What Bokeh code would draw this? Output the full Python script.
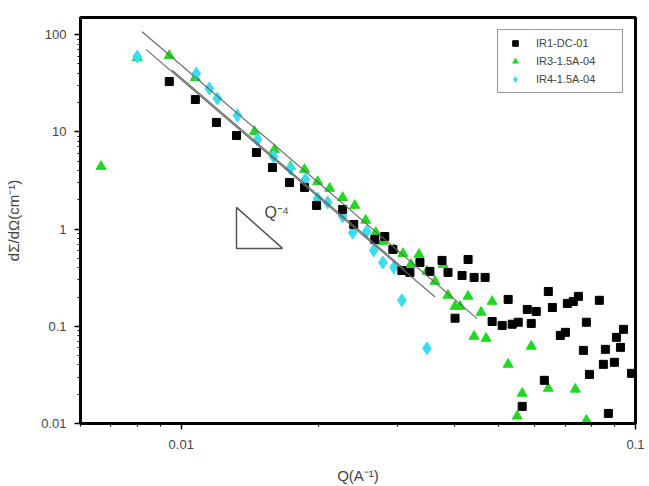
from bokeh.plotting import figure
from bokeh.models import (FixedTicker, CustomJSTickFormatter, Legend, LegendItem)
from bokeh.core.properties import value
from bokeh.embed import file_html
from bokeh.resources import INLINE

# ---- data ----
ir1_q = [0.00941, 0.01074, 0.01195, 0.01323, 0.01464, 0.01588, 0.01731, 0.01868, 0.01986,
         0.02266, 0.02397, 0.02667, 0.02806, 0.02923, 0.03060, 0.03187, 0.03353, 0.03527,
         0.03750, 0.03866, 0.04151, 0.04280, 0.04413, 0.04666, 0.04006, 0.04835, 0.05087,
         0.05244, 0.05352, 0.05518, 0.05777, 0.05895, 0.06047, 0.06299, 0.05631, 0.06428,
         0.06561, 0.06832, 0.07008, 0.07080, 0.07298, 0.07486, 0.07679, 0.07797, 0.07918,
         0.08325, 0.08497, 0.08584, 0.08716, 0.08985, 0.09078, 0.09266, 0.09408, 0.09799]
ir1_i = [32.9, 21.5, 12.5, 9.16, 6.13, 4.30, 3.01, 2.68, 1.75,
         1.59, 1.115, 0.782, 0.839, 0.617, 0.375, 0.358, 0.453, 0.367,
         0.476, 0.358, 0.333, 0.487, 0.318, 0.318, 0.121, 0.112, 0.102,
         0.189, 0.105, 0.110, 0.149, 0.107, 0.142, 0.0278, 0.0150, 0.228,
         0.156, 0.0806, 0.0866, 0.172, 0.180, 0.203, 0.0565, 0.110, 0.0320,
         0.185, 0.0406, 0.0579, 0.0127, 0.0426, 0.0769, 0.0607, 0.093, 0.0328]

ir3_q = [0.00666, 0.00800, 0.00941, 0.01074, 0.01449, 0.01604, 0.01740, 0.01868, 0.01996,
         0.02122, 0.02266, 0.02409, 0.02547, 0.02681, 0.02778, 0.02938, 0.03076, 0.03203,
         0.03336, 0.03474, 0.03619, 0.03770, 0.03866, 0.04006, 0.04109, 0.04280, 0.04571,
         0.04835, 0.04413, 0.04690, 0.05244, 0.05631, 0.05490, 0.05895, 0.06428, 0.07372,
         0.07797]
ir3_i = [4.40, 58.0, 60.8, 36.1, 10.07, 6.58, 4.40, 4.10, 3.08,
         2.62, 2.11, 1.75, 1.23, 0.923, 0.746, 0.617, 0.56, 0.433,
         0.548, 0.367, 0.289, 0.433, 0.208, 0.160, 0.160, 0.203, 0.139,
         0.180, 0.0787, 0.0751, 0.0406, 0.0204, 0.0119, 0.0622, 0.0230, 0.0225,
         0.0108]

ir4_q = [0.00800, 0.01079, 0.01153, 0.01201, 0.01329, 0.01472, 0.01596, 0.01740, 0.01877,
         0.01996, 0.02101, 0.02266, 0.02385, 0.02560, 0.02653, 0.02778, 0.02938, 0.03060,
         0.03474]
ir4_i = [59.4, 39.7, 27.9, 22.0, 14.7, 8.34, 5.58, 4.2, 3.24,
         2.06, 1.88, 1.35, 0.92, 0.945, 0.603, 0.453, 0.403, 0.185,
         0.0593]

# Q^-4 fit lines (end points)
fit_q = [[0.00820, 0.0448], [0.00837, 0.0362], [0.00955, 0.0310]]
fit_i = [[107.0, 0.12], [70.0, 0.20], [43.0, 0.387]]

# slope triangle
tri_q = [0.01323, 0.01323, 0.01671]
tri_i = [1.67, 0.632, 0.632]
slope_q = [0.01525]
slope_i = [1.48]
slope_text = ["Q\u207b\u2074"]

x_major = [0.01, 0.1]
y_major = [0.01, 0.1, 1, 10, 100]
x_minor = [0.006, 0.007, 0.008, 0.009, 0.02, 0.03, 0.04, 0.05, 0.06, 0.07, 0.08, 0.09]
y_minor = [k * d for d in [0.01, 0.1, 1, 10] for k in range(2, 10)]

series_names = ["IR1-DC-01", "IR3-1.5A-04", "IR4-1.5A-04"]
x_title = "Q(A\u207b\u00b9)"
y_title = "d\u03a3/d\u03a9(cm\u207b\u00b9)"

FONT = "Liberation Sans"
TXT = "#444444"

p = figure(width=649, height=486, x_axis_type="log", y_axis_type="log",
           x_range=(0.006, 0.1), y_range=(0.01, 150),
           output_backend="svg", toolbar_location=None,
           min_border_left=80, min_border_right=14, min_border_top=17, min_border_bottom=63)
p.grid.visible = False
p.outline_line_color = "black"
p.outline_line_width = 3
p.background_fill_color = "white"
p.border_fill_color = "white"

for ax in (p.xaxis[0], p.yaxis[0]):
    ax.axis_line_width = 3
    ax.axis_line_color = "black"
    ax.major_tick_line_color = "black"
    ax.minor_tick_line_color = "black"
    ax.major_tick_line_width = 1.5
    ax.minor_tick_line_width = 1.2
    ax.major_tick_in = 0
    ax.major_tick_out = 6
    ax.minor_tick_in = 0
    ax.minor_tick_out = 3
    ax.major_label_text_font = FONT
    ax.major_label_text_font_size = "13px"
    ax.major_label_text_color = TXT
    ax.axis_label_text_font = FONT
    ax.axis_label_text_font_size = "15px"
    ax.axis_label_text_font_style = "normal"
    ax.axis_label_text_color = TXT
    ax.formatter = CustomJSTickFormatter(code="return tick.toString();")

p.xaxis.ticker = FixedTicker(ticks=x_major, minor_ticks=x_minor)
p.yaxis.ticker = FixedTicker(ticks=y_major, minor_ticks=y_minor)
p.xaxis.axis_label = x_title
p.yaxis.axis_label = y_title
p.xaxis.major_label_standoff = 10
p.xaxis.axis_label_standoff = 15
p.yaxis.major_label_standoff = 8
p.yaxis.axis_label_standoff = 16

g3 = p.scatter(ir3_q, ir3_i, marker="triangle", size=10, color="#22d822")
g4 = p.scatter(ir4_q, ir4_i, marker="diamond", size=13, color="#3cdcf0")
g1 = p.scatter(ir1_q, ir1_i, marker="square", size=8, color="black")

p.multi_line(fit_q, fit_i, line_color="#666666", line_width=1.1)
p.patch(tri_q, tri_i, fill_color=None, line_color="#555555", line_width=1.5)
p.text(slope_q, slope_i, text=slope_text, text_font=value(FONT), text_font_size="16px",
       text_color=TXT, text_align="left", text_baseline="middle")

legend = Legend(items=[LegendItem(label=series_names[0], renderers=[g1]),
                       LegendItem(label=series_names[1], renderers=[g3]),
                       LegendItem(label=series_names[2], renderers=[g4])],
                location="top_right", margin=12, padding=4, spacing=0,
                glyph_width=26, glyph_height=14, label_height=18, label_width=82,
                label_standoff=8, label_text_font=FONT, label_text_font_size="11px",
                label_text_color=TXT, border_line_color="#333333", border_line_width=1.5,
                background_fill_color="white")
p.add_layout(legend)

open("out.html", "w").write(file_html(p, INLINE))
